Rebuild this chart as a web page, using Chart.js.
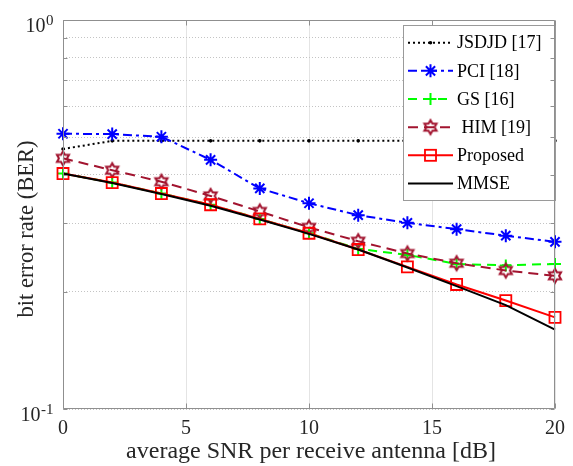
<!DOCTYPE html>
<html><head><meta charset="utf-8">
<script src="https://cdn.jsdelivr.net/npm/chart.js@4/dist/chart.umd.min.js"></script>
<style>html,body{margin:0;padding:0;background:#fff;} #wrap{width:573px;height:466px;position:relative;}</style>
</head><body><div id="wrap"><canvas id="c" width="573" height="466"></canvas></div>
<script>
// ---------------- data ----------------
const snr = [0, 2, 4, 6, 8, 10, 12, 14, 16, 18, 20];
const berJSDJD    = [0.466, 0.489, 0.489, 0.489, 0.489, 0.489, 0.489, 0.489, 0.489, 0.489, 0.489];
const berPCI      = [0.510, 0.509, 0.501, 0.437, 0.369, 0.338, 0.315, 0.301, 0.290, 0.279, 0.269];
const berGS       = [0.403, 0.382, 0.358, 0.335, 0.308, 0.283, 0.258, 0.249, 0.236, 0.234, 0.236];
const berHIM      = [0.441, 0.411, 0.384, 0.353, 0.322, 0.293, 0.270, 0.251, 0.237, 0.227, 0.220];
const berProposed = [0.403, 0.382, 0.358, 0.335, 0.308, 0.283, 0.257, 0.232, 0.209, 0.190, 0.172];
const berMMSE     = [0.403, 0.381, 0.357, 0.333, 0.307, 0.282, 0.257, 0.231, 0.207, 0.185, 0.160];
const seriesLabels = ['JSDJD [17]', 'PCI [18]', 'GS [16]', ' HIM [19]', 'Proposed', 'MMSE'];
const xTickValues = [0, 5, 10, 15, 20];
const yTickValues = [0.1, 0.2, 0.3, 0.4, 0.5, 0.6, 0.7, 0.8, 0.9, 1];
const yTickLabelValues = [1, 0.1];
const yTickLabelBases = ['10', '10'];
const yTickLabelExps = ['0', '-1'];
const xTitle = 'average SNR per receive antenna [dB]';
const yTitle = 'bit error rate (BER)';

// ---------------- styles ----------------
const FONT = 'Liberation Serif';
const HIMCOLOR = '#A2142F';
function hexagram(color, R, lw) {
  const size = 2 * Math.ceil(R + lw + 1);
  const c = document.createElement('canvas');
  c.width = size; c.height = size;
  const g = c.getContext('2d');
  const cx = size / 2, cy = size / 2, r = R / Math.sqrt(3);
  g.beginPath();
  for (let i = 0; i < 12; i++) {
    const a = -Math.PI / 2 + i * Math.PI / 6;
    const rad = (i % 2 === 0) ? R : r;
    g.lineTo(cx + rad * Math.cos(a), cy + rad * Math.sin(a));
  }
  g.closePath();
  g.strokeStyle = color; g.lineWidth = lw; g.lineJoin = 'miter'; g.stroke();
  return c;
}
const hexImg = hexagram(HIMCOLOR, 7, 2);

const styles = [
  {color: '#000000', dash: [2, 3], marker: 'dot', width: 2},
  {color: '#0000FF', dash: [9, 4, 3, 4], marker: 'star', width: 2},
  {color: '#00FF00', dash: [9, 6], marker: 'cross', width: 2},
  {color: HIMCOLOR, dash: [10, 6], marker: 'hex', width: 2},
  {color: '#FF0000', dash: [], marker: 'rect', width: 2},
  {color: '#000000', dash: [], marker: 'none', width: 2}
];
const seriesData = [berJSDJD, berPCI, berGS, berHIM, berProposed, berMMSE];

function pointOpts(m) {
  switch (m) {
    case 'dot': return {pointStyle: 'circle', pointRadius: 1.8, pointBorderWidth: 0};
    case 'star': return {pointStyle: 'star', pointRadius: 6.5, pointBorderWidth: 2};
    case 'cross': return {pointStyle: 'cross', pointRadius: 6, pointBorderWidth: 2};
    case 'hex': return {pointStyle: hexImg, pointRadius: 7, pointBorderWidth: 2};
    case 'rect': return {pointStyle: 'rect', pointRadius: 7.8, pointBorderWidth: 1.8};
    default: return {pointStyle: false, pointRadius: 0, pointBorderWidth: 0};
  }
}

const datasets = seriesData.map((arr, i) => {
  const s = styles[i];
  const po = pointOpts(s.marker);
  return Object.assign({
    label: seriesLabels[i],
    data: snr.map((x, k) => ({x: x, y: arr[k]})),
    borderColor: s.color,
    backgroundColor: s.color,
    borderWidth: s.width,
    borderDash: s.dash,
    pointBorderColor: s.color,
    pointBackgroundColor: s.marker === 'dot' ? s.color : 'rgba(0,0,0,0)',
    pointHoverRadius: 0,
    tension: 0,
    fill: false,
    clip: false,
    order: 6 - i
  }, po);
});

function drawMarker(ctx, m, x, y, color) {
  ctx.save();
  ctx.setLineDash([]);
  ctx.strokeStyle = color; ctx.fillStyle = color; ctx.lineWidth = 2;
  if (m === 'dot') {
    ctx.beginPath(); ctx.arc(x, y, 1.8, 0, Math.PI * 2); ctx.fill();
  } else if (m === 'star') {
    const r = 6.5, d = r * Math.SQRT1_2;
    ctx.beginPath();
    ctx.moveTo(x, y - r); ctx.lineTo(x, y + r);
    ctx.moveTo(x - r, y); ctx.lineTo(x + r, y);
    ctx.moveTo(x - d, y - d); ctx.lineTo(x + d, y + d);
    ctx.moveTo(x - d, y + d); ctx.lineTo(x + d, y - d);
    ctx.stroke();
  } else if (m === 'cross') {
    const r = 6;
    ctx.beginPath();
    ctx.moveTo(x, y - r); ctx.lineTo(x, y + r);
    ctx.moveTo(x - r, y); ctx.lineTo(x + r, y);
    ctx.stroke();
  } else if (m === 'hex') {
    ctx.drawImage(hexImg, x - hexImg.width / 2, y - hexImg.height / 2);
  } else if (m === 'rect') {
    ctx.lineWidth = 1.8;
    const h = 7.8 * Math.SQRT1_2;
    ctx.strokeRect(x - h, y - h, 2 * h, 2 * h);
  }
  ctx.restore();
}

const framePlugin = {
  id: 'frame',
  afterDraw(chart) {
    const ctx = chart.ctx;
    const a = chart.chartArea;
    const xs = chart.scales.x, ys = chart.scales.y;

    // legend
    const lx0 = 403.5, lx1 = 555.5, ly0 = 25.5, ly1 = 200.5;
    ctx.save();
    ctx.fillStyle = '#ffffff';
    ctx.fillRect(lx0, ly0, lx1 - lx0, ly1 - ly0);
    ctx.strokeStyle = '#9a9a9a'; ctx.lineWidth = 1;
    ctx.strokeRect(lx0, ly0, lx1 - lx0, ly1 - ly0);
    for (let i = 0; i < datasets.length; i++) {
      const s = styles[i];
      const y = 42.7 + i * 28.15;
      ctx.save();
      ctx.strokeStyle = s.color; ctx.lineWidth = s.width; ctx.setLineDash(s.dash);
      ctx.beginPath(); ctx.moveTo(408, y); ctx.lineTo(453, y); ctx.stroke();
      ctx.restore();
      drawMarker(ctx, s.marker, 430.5, y, s.color);
      ctx.fillStyle = '#000000';
      ctx.font = '18px "' + FONT + '"';
      ctx.textAlign = 'left'; ctx.textBaseline = 'middle';
      ctx.fillText(seriesLabels[i], 457, y + 1);
    }
    ctx.restore();

    // axes box and inner ticks
    ctx.save();
    ctx.strokeStyle = '#8f8f8f'; ctx.lineWidth = 1; ctx.setLineDash([]);
    const L = Math.round(a.left) + 0.5, R = Math.round(a.right) - 0.5;
    const T = Math.round(a.top) + 0.5, B = Math.round(a.bottom) - 0.5;
    ctx.beginPath();
    ctx.rect(L, T, R - L, B - T);
    xTickValues.forEach(v => {
      const px = Math.round(xs.getPixelForValue(v)) + 0.5;
      ctx.moveTo(px, B); ctx.lineTo(px, B - 5);
      ctx.moveTo(px, T); ctx.lineTo(px, T + 5);
    });
    yTickValues.forEach(v => {
      const py = Math.round(ys.getPixelForValue(v)) + 0.5;
      ctx.moveTo(L, py); ctx.lineTo(L + 4, py);
      ctx.moveTo(R, py); ctx.lineTo(R - 4, py);
    });
    ctx.stroke();
    ctx.restore();

    // y tick labels with superscripts
    ctx.save();
    ctx.fillStyle = '#262626';
    yTickLabelValues.forEach((v, k) => {
      const py = ys.getPixelForValue(v);
      ctx.font = '15px "' + FONT + '"';
      const we = ctx.measureText(yTickLabelExps[k]).width;
      const right = 53.5;
      const bx = right - we - 0.5;
      ctx.textBaseline = 'alphabetic';
      ctx.textAlign = 'left';
      ctx.fillText(yTickLabelExps[k], bx + 0.5, py + 5);
      ctx.font = '20px "' + FONT + '"';
      ctx.textAlign = 'right';
      ctx.fillText(yTickLabelBases[k], bx, py + 11.5);
    });
    ctx.restore();

    // axis titles
    ctx.save();
    ctx.fillStyle = '#262626';
    ctx.textAlign = 'center'; ctx.textBaseline = 'middle';
    ctx.font = '24px "' + FONT + '"';
    ctx.fillText(xTitle, (a.left + a.right) / 2 + 2, 452);
    ctx.translate(27, 229);
    ctx.rotate(-Math.PI / 2);
    ctx.font = '22.5px "' + FONT + '"';
    ctx.fillText(yTitle, 0, 0);
    ctx.restore();
  }
};

new Chart(document.getElementById('c'), {
  type: 'line',
  data: {datasets: datasets},
  options: {
    responsive: false,
    animation: false,
    devicePixelRatio: 1,
    layout: {padding: {left: 0, right: 17, top: 20, bottom: 0}},
    plugins: {legend: {display: false}, tooltip: {enabled: false}, title: {display: false}},
    events: [],
    scales: {
      x: {
        type: 'linear', min: 0, max: 20,
        afterBuildTicks: s => { s.ticks = xTickValues.map(v => ({value: v})); },
        afterFit: s => { s.height = 57; },
        ticks: {font: {family: FONT, size: 20}, color: '#262626', padding: 8, maxRotation: 0, autoSkip: false},
        grid: {color: '#e4e4e4', lineWidth: 1, drawTicks: false},
        border: {display: false}
      },
      y: {
        type: 'logarithmic', min: 0.1, max: 1,
        afterBuildTicks: s => { s.ticks = yTickValues.map(v => ({value: v})); },
        afterFit: s => { s.width = 63; },
        ticks: {display: false},
        grid: {color: '#c4c4c4', lineWidth: 1, drawTicks: false},
        border: {display: false, dash: [1, 2]}
      }
    }
  },
  plugins: [framePlugin]
});
</script>
</body></html>
